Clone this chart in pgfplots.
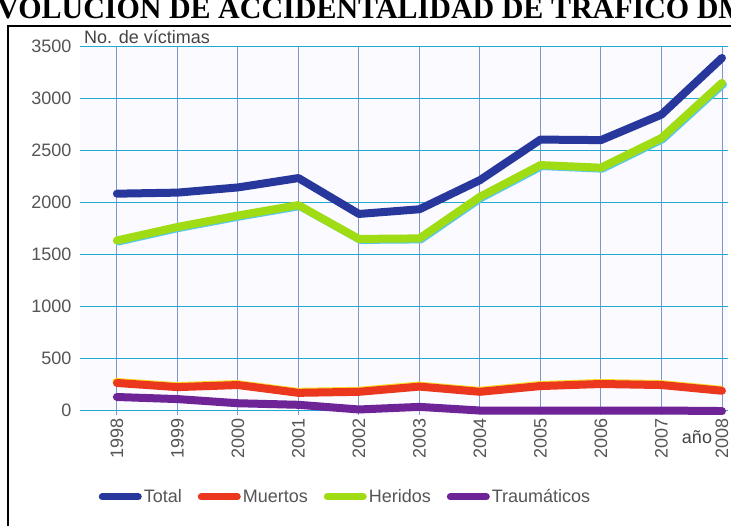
\documentclass[border=0pt]{standalone}
\usepackage{pgfplots}
\pgfplotsset{compat=1.18}
\usepackage{fontspec}
\setmainfont{Liberation Sans}
\newfontfamily\titlefont{Liberation Serif}
\definecolor{cTotal}{RGB}{40,55,155}
\definecolor{cMuertos}{RGB}{235,55,30}
\definecolor{cHeridos}{RGB}{160,220,20}
\definecolor{cTrauma}{RGB}{110,35,150}
\definecolor{cShadow}{RGB}{90,200,230}
\definecolor{cYellow}{RGB}{250,220,40}
\definecolor{hgrid}{RGB}{30,170,210}
\definecolor{vgrid}{RGB}{125,150,205}
\definecolor{lbl}{RGB}{85,85,85}
\begin{document}
\begin{tikzpicture}
\useasboundingbox (0pt,0pt) rectangle (731pt,526pt);
\clip (0pt,0pt) rectangle (731pt,526pt);
\fill[white] (0pt,0pt) rectangle (731pt,526pt);
\node[anchor=base west, inner sep=0, font=\titlefont\bfseries\fontsize{30}{32}\selectfont] at (-23pt,507pt) {EVOLUCIÓN DE ACCIDENTALIDAD DE TRÁFICO DMQ};
\draw[black, line width=1.5pt] (8pt,-5pt) -- (8pt,500pt) -- (745pt,500pt);
\begin{axis}[
  at={(80pt,111pt)}, anchor=south west, scale only axis,
  width=648pt, height=369pt,
  xmin=1997.39, xmax=2008.1, ymin=-48, ymax=3500,
  xtick={1998,1999,2000,2001,2002,2003,2004,2005,2006,2007,2008},
  xticklabels={1998,1999,2000,2001,2002,2003,2004,2005,2006,2007,2008},
  ytick={0,500,1000,1500,2000,2500,3000,3500},
  /pgf/number format/assume math mode=true,
  /pgf/number format/set thousands separator={},
  axis line style={draw=none}, tick style={draw=none},
  xmajorgrids, ymajorgrids,
  major x grid style={vgrid, line width=0.9pt},
  major y grid style={hgrid, line width=0.9pt},
  axis background/.style={fill=blue!2},
  ticklabel style={font=\fontsize{18}{20}\selectfont, text=lbl},
  yticklabel style={xshift=-5pt},
  xticklabel style={rotate=90, anchor=east},
  legend style={at={(rel axis cs:0.024,-0.222)}, anchor=west, draw=none, fill=none,
    font=\fontsize{18}{20}\selectfont, text=lbl,
    /tikz/every even column/.append style={column sep=14pt}},
  legend columns=4,
  legend image code/.code={\draw[#1, line width=7pt, line cap=round] (2pt,0pt) -- (38pt,0pt);},
  every axis plot/.append style={line width=8pt, line join=round, line cap=round, mark=none},
]
\addplot[cShadow, forget plot, line width=7pt, transform canvas={shift={(1.5pt,-1.5pt)}}] coordinates {
(1998,1630) (1999,1760) (2000,1870) (2001,1970) (2002,1645) (2003,1650) (2004,2050) (2005,2355) (2006,2330) (2007,2615) (2008,3145)};
\addplot[cYellow, forget plot, line width=7pt, transform canvas={shift={(-1pt,1.5pt)}}] coordinates {
(1998,260) (1999,220) (2000,240) (2001,165) (2002,175) (2003,225) (2004,175) (2005,230) (2006,250) (2007,240) (2008,185)};
\addplot[cTotal] coordinates {
(1998,2080) (1999,2090) (2000,2140) (2001,2230) (2002,1885) (2003,1930) (2004,2210) (2005,2600) (2006,2595) (2007,2840) (2008,3385)};
\addlegendentry{Total}
\addplot[cMuertos] coordinates {
(1998,260) (1999,220) (2000,240) (2001,165) (2002,175) (2003,225) (2004,175) (2005,230) (2006,250) (2007,240) (2008,185)};
\addlegendentry{Muertos}
\addplot[cHeridos] coordinates {
(1998,1630) (1999,1760) (2000,1870) (2001,1970) (2002,1645) (2003,1650) (2004,2050) (2005,2355) (2006,2330) (2007,2615) (2008,3145)};
\addlegendentry{Heridos}
\addplot[cTrauma] coordinates {
(1998,125) (1999,105) (2000,65) (2001,50) (2002,5) (2003,30) (2004,-5) (2005,-5) (2006,-5) (2007,-5) (2008,-10)};
\addlegendentry{Traumáticos}
\end{axis}
\node[anchor=west, inner sep=0, font=\fontsize{18}{20}\selectfont, text=lbl!80!black] at (84pt,489pt) {No. de víctimas};
\node[inner sep=0, font=\fontsize{18}{20}\selectfont, text=lbl!80!black] at (697pt,89pt) {año};
\end{tikzpicture}
\end{document}
